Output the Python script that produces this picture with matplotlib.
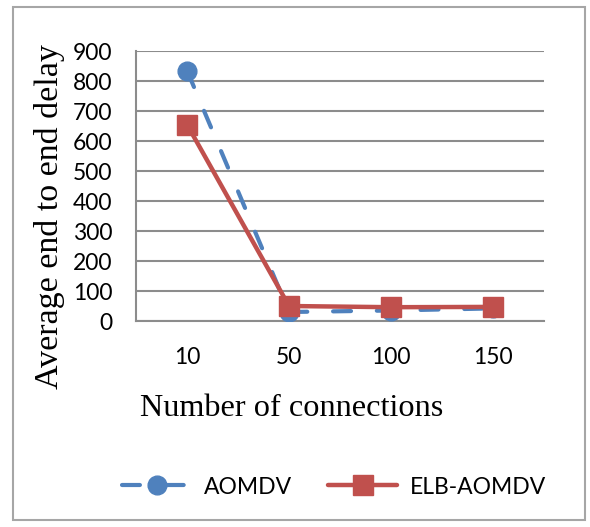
import matplotlib.pyplot as plt
from matplotlib.patches import Rectangle

connections = ['10', '50', '100', '150']
aomdv = [835, 30, 35, 42]
elb_aomdv = [655, 50, 46, 47]
y_ticks = list(range(0, 1000, 100))

BLUE = '#4F81BD'
RED = '#C0504D'
GRID = '#8C8C8C'

fig = plt.figure(figsize=(5.9, 5.27), dpi=100)
ax = fig.add_axes([136 / 590, 1 - 321 / 527, 408 / 590, 270 / 527])

x = range(len(connections))
ax.plot(x, aomdv, color=BLUE, lw=3, ls=(0, (4.3, 6.2)), dash_capstyle='round',
        marker='o', ms=13.5, label='AOMDV', zorder=3)
ax.plot(x, elb_aomdv, color=RED, lw=3.2, solid_capstyle='round',
        marker='s', ms=14, label='ELB-AOMDV', zorder=4)

ax.set_xlim(-0.5, len(connections) - 0.5)
ax.set_ylim(0, 900)
ax.set_yticks(y_ticks)
ax.set_xticks(list(x))
ax.set_xticklabels(connections)
ax.yaxis.grid(True, color=GRID, lw=1.5)
ax.set_axisbelow(True)
for side in ['top', 'right']:
    ax.spines[side].set_visible(False)
for side in ['left', 'bottom']:
    ax.spines[side].set_color(GRID)
    ax.spines[side].set_linewidth(1.5)
ax.tick_params(axis='both', length=0, labelsize=16.5)
ax.tick_params(axis='y', pad=17)
ax.tick_params(axis='x', pad=19)
for lbl in ax.get_xticklabels() + ax.get_yticklabels():
    lbl.set_family('Lato')

fig.text(50 / 590, 1 - 217 / 527, 'Average end to end delay', rotation=90,
         ha='center', va='center', family='Liberation Serif', fontsize=24.5)
fig.text(292 / 590, 1 - 408 / 527, 'Number of connections',
         ha='center', va='center', family='Liberation Serif', fontsize=23.2)

fig.legend(loc='center', bbox_to_anchor=(334 / 590, 1 - 487 / 527), ncol=2,
           frameon=False, prop={'family': 'Lato', 'size': 16.5},
           handlelength=3.0, handletextpad=0.55, columnspacing=1.6)

# chart border
fig.patches.append(Rectangle((12.5 / 590, 1 - 520 / 527), 572.5 / 590, 513.5 / 527,
                             transform=fig.transFigure, fill=False,
                             edgecolor='#A6A6A6', lw=1.5))

fig.savefig('out.png', dpi=100)
